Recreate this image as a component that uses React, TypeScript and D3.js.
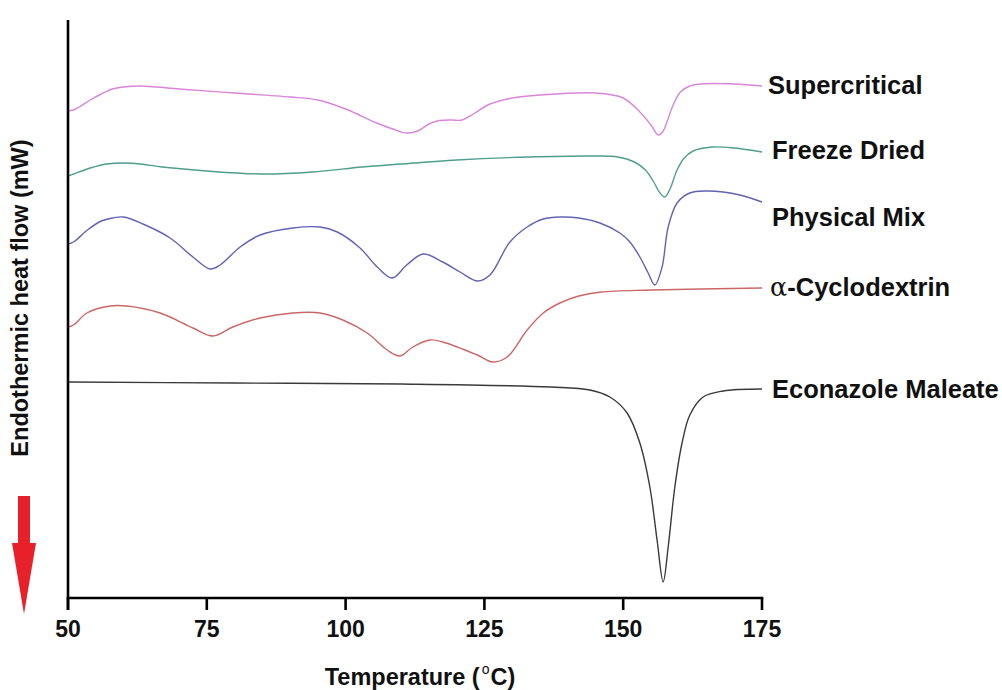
import React from "react";
import * as d3 from "d3";

// Temperature (°C) and heat flow (arbitrary units, offset traces)
const supercriticalT = [50, 51, 52, 54, 56, 58, 60, 63, 66, 70, 80, 90, 95, 100, 105.6, 108.5, 111, 113, 115, 116.5, 119, 121, 123, 126, 130, 135, 145, 150, 153, 155, 156.3, 157.2, 158, 159, 160.3, 162, 164, 170, 175];
const supercriticalV = [48.7, 48.8, 49.1, 49.8, 50.4, 50.9, 51.1, 51.2, 51.1, 50.9, 50.5, 50.1, 49.8, 48.9, 47.5, 46.9, 46.5, 46.7, 47.4, 47.7, 47.8, 47.8, 48.4, 49.4, 50.0, 50.3, 50.5, 50.0, 48.6, 47.3, 46.3, 46.7, 47.8, 49.3, 50.6, 51.2, 51.4, 51.4, 51.2];

const freezeT = [50, 51, 54, 57, 60, 63, 67, 75, 85, 94, 103, 110, 120, 133, 145, 149, 152, 154, 155.5, 156.5, 157.5, 158.5, 159.7, 161, 162.6, 166, 170, 175];
const freezeV = [42.2, 42.4, 43.0, 43.4, 43.5, 43.4, 43.1, 42.7, 42.4, 42.6, 43.1, 43.4, 43.8, 44.1, 44.2, 44.1, 43.6, 42.8, 41.6, 40.6, 40.1, 41.0, 42.8, 44.0, 44.7, 45.1, 45.0, 44.6];

const physicalT = [50, 51, 53.5, 56, 58, 60, 63.5, 68.4, 72.5, 75.6, 77.4, 81, 84.6, 90.5, 95.4, 98.5, 102.6, 105.7, 108.4, 111, 114, 117.5, 120.6, 123.8, 126, 129.6, 132.7, 135.6, 138.6, 142, 145.8, 149.4, 151.2, 153, 154.5, 155.7, 157, 158.1, 159.7, 162, 165.1, 168, 171, 175];
const physicalV = [35.4, 35.6, 36.8, 37.7, 38.0, 38.1, 37.4, 36.0, 34.1, 32.9, 33.3, 35.1, 36.3, 37.0, 37.1, 36.6, 35.0, 33.1, 32.0, 33.3, 34.4, 33.6, 32.6, 31.7, 32.3, 35.6, 37.1, 37.9, 38.1, 38.0, 37.5, 36.5, 35.6, 34.1, 32.5, 31.3, 33.1, 37.1, 39.5, 40.5, 40.7, 40.6, 40.3, 39.6];

const cyclodextrinT = [50, 51, 53.4, 57.6, 60.6, 66.6, 72.5, 76.1, 79.7, 84.6, 90.5, 95.4, 99.5, 103.9, 107.5, 109.8, 112.1, 115.2, 117.5, 123.7, 126.5, 129.1, 132.7, 135.6, 138.6, 142, 146, 155, 175];
const cyclodextrinV = [27.1, 27.3, 28.5, 29.2, 29.2, 28.5, 27.0, 26.2, 27.1, 28.0, 28.5, 28.5, 27.8, 26.5, 24.8, 24.2, 25.1, 25.8, 25.6, 24.3, 23.6, 24.1, 26.8, 28.5, 29.5, 30.2, 30.6, 30.8, 31.0];

const econazoleT = [50, 80, 110, 137, 144, 147.6, 150.7, 153, 154.8, 156.1, 157.2, 158.1, 159.3, 160.6, 162, 164.4, 168, 175];
const econazoleV = [21.6, 21.5, 21.4, 21.1, 20.8, 20.1, 18.5, 15.5, 11.1, 5.8, 1.6, 5.1, 11.1, 15.5, 18.3, 20.1, 20.7, 20.9];

const seriesNames = ["Supercritical", "Freeze Dried", "Physical Mix", "α-Cyclodextrin", "Econazole Maleate"];
const xTicks = [50, 75, 100, 125, 150, 175];

const W = 1002;
const H = 690;
const left = 68;
const right = 762;
const top = 20;
const bottom = 598;

const FONT = "'Liberation Sans', Arial, Helvetica, sans-serif";

export default function App() {
  const x = d3.scaleLinear().domain([50, 175]).range([left, right]);
  const y = d3.scaleLinear().domain([0, 57.8]).range([bottom, top]);

  const series = [
    { name: seriesNames[0], t: supercriticalT, v: supercriticalV, color: "#d786d9", labelY: 85, labelX: 768 },
    { name: seriesNames[1], t: freezeT, v: freezeV, color: "#4f9d8e", labelY: 150, labelX: 772 },
    { name: seriesNames[2], t: physicalT, v: physicalV, color: "#6262b4", labelY: 217, labelX: 772 },
    { name: seriesNames[3], t: cyclodextrinT, v: cyclodextrinV, color: "#cc6666", labelY: 287, labelX: 770 },
    { name: seriesNames[4], t: econazoleT, v: econazoleV, color: "#3a3a3a", labelY: 389, labelX: 772 },
  ];

  const line = d3
    .line<[number, number]>()
    .x((d) => x(d[0]))
    .y((d) => y(d[1]))
    .curve(d3.curveCatmullRom.alpha(0.5));

  return (
    <svg
      width={W}
      height={H}
      style={{ position: "absolute", left: 0, top: 0, background: "#fff" }}
      fontFamily={FONT}
    >
      {/* curves */}
      {series.map((s) => (
        <path
          key={s.name}
          d={line(s.t.map((t, i) => [t, s.v[i]] as [number, number])) || ""}
          fill="none"
          stroke={s.color}
          strokeWidth={1.4}
        />
      ))}

      {/* axes */}
      <line x1={left} x2={left} y1={top} y2={bottom + 12} stroke="#000" strokeWidth={2.6} />
      <line x1={left - 1.3} x2={right + 1.3} y1={bottom} y2={bottom} stroke="#000" strokeWidth={2.6} />
      {xTicks.map((t) => (
        <g key={t}>
          <line x1={x(t)} x2={x(t)} y1={bottom} y2={bottom + 12} stroke="#000" strokeWidth={2.6} />
          <text x={x(t)} y={637} textAnchor="middle" fontSize={23} fontWeight="bold" fill="#111">
            {t}
          </text>
        </g>
      ))}

      {/* series labels */}
      {series.map((s) => (
        <text key={s.name + "-l"} x={s.labelX} y={s.labelY} dy="0.35em" fontSize={25.5} fontWeight="bold" fill="#111">
          {s.name.startsWith("α") ? (
            <>
              <tspan fontWeight="normal" fontFamily="'DejaVu Serif', serif">α</tspan>
              <tspan>{s.name.slice(1)}</tspan>
            </>
          ) : (
            s.name
          )}
        </text>
      ))}

      {/* x axis title */}
      <text x={420} y={685} textAnchor="middle" fontSize={23.5} fontWeight="bold" fill="#111">
        <tspan>Temperature (</tspan>
        <tspan fontSize={14} fontWeight="normal" dx={2} dy={-11}>o</tspan>
        <tspan dx={1} dy={11}>C)</tspan>
      </text>

      {/* y axis title */}
      <text
        transform={`translate(28, 298) rotate(-90)`}
        textAnchor="middle"
        fontSize={23.5}
        fontWeight="bold"
        fill="#111"
      >
        Endothermic heat flow (mW)
      </text>

      {/* red arrow */}
      <rect x={18} y={496} width={12} height={48} fill="#e8202a" />
      <path d="M12,543 L36,543 L24,614 Z" fill="#e8202a" />
    </svg>
  );
}
